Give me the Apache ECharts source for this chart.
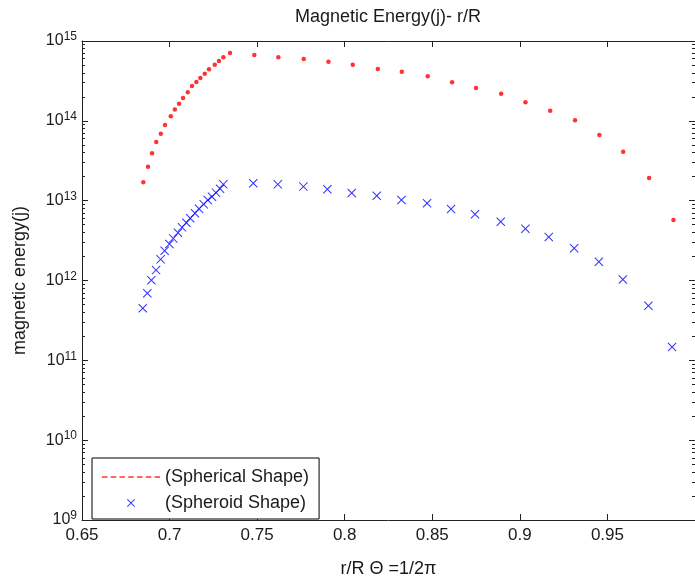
<!DOCTYPE html>
<html>
<head>
<meta charset="utf-8">
<script src="https://cdn.jsdelivr.net/npm/echarts@6/dist/echarts.min.js"></script>
<style>html,body{margin:0;padding:0;background:#fff;}#c{width:695px;height:583px;}</style>
</head>
<body>
<div id="c"></div>
<script>
const titleText = 'Magnetic Energy(j)- r/R';
const xName = 'r/R \u0398 =1/2\u03c0';
const yName = 'magnetic energy(j)';
const seriesNames = ['(Spherical Shape)', '(Spheroid Shape)'];
const xTickMin = 0.65, xTickMax = 1.0, xTickStep = 0.05;
const yExpMin = 9, yExpMax = 15;

const redX = [0.6850,0.6877,0.6900,0.6924,0.6950,0.6974,0.7007,0.7030,0.7054,0.7077,0.7104,0.7128,0.7153,0.7176,0.7201,0.7225,0.7258,0.7282,0.7307,0.7345,
  0.7484,0.7621,0.7766,0.7907,0.8046,0.8189,0.8326,0.8474,0.8613,0.8750,0.8893,0.9032,0.9173,0.9315,0.9454,0.9590,0.9738,0.9877];
const redY = [1.70e13,2.66e13,3.92e13,5.43e13,6.90e13,8.87e13,1.14e14,1.39e14,1.64e14,1.93e14,2.28e14,2.73e14,3.06e14,3.44e14,3.89e14,4.43e14,5.05e14,5.61e14,6.25e14,7.08e14,
  6.68e14,6.25e14,5.96e14,5.51e14,5.05e14,4.46e14,4.12e14,3.61e14,3.05e14,2.58e14,2.19e14,1.71e14,1.34e14,1.02e14,6.64e13,4.10e13,1.92e13,5.73e12];
const blueX = [0.6847,0.6873,0.6896,0.6923,0.6949,0.6972,0.6999,0.7021,0.7048,0.7071,0.7096,0.7118,0.7145,0.7168,0.7195,0.7218,0.7242,0.7265,0.7288,0.7307,
  0.7478,0.7618,0.7764,0.7901,0.8040,0.8183,0.8324,0.8470,0.8607,0.8744,0.8891,0.9032,0.9165,0.9310,0.9451,0.9588,0.9734,0.9869];
const blueY = [4.49e11,6.92e11,1.01e12,1.35e12,1.84e12,2.36e12,2.86e12,3.37e12,3.97e12,4.63e12,5.30e12,6.01e12,6.95e12,7.93e12,8.99e12,1.02e13,1.12e13,1.26e13,1.41e13,1.60e13,
  1.65e13,1.60e13,1.50e13,1.39e13,1.25e13,1.15e13,1.02e13,9.27e12,7.87e12,6.75e12,5.45e12,4.46e12,3.51e12,2.54e12,1.72e12,1.03e12,4.84e11,1.47e11];

const FONT = "'Liberation Sans', Arial, sans-serif";
const TXT = '#1a1a1a';
const AX = '#222';

const redData = redX.map((x, i) => [x, redY[i]]);
const blueData = blueX.map((x, i) => [x, blueY[i]]);

// minor log tick positions (in log10 space) for the helper axes
const minorTicks = [];
for (let d = yExpMin; d < yExpMax; d++) {
  for (let k = 2; k <= 9; k++) minorTicks.push(d + Math.log10(k));
}

const xSym = 'path://M0,0.8L0.8,0L5,4.2L9.2,0L10,0.8L5.8,5L10,9.2L9.2,10L5,5.8L0.8,10L0,9.2L4.2,5Z';
let dashPath = 'path://';
for (let i = 0; i < 7; i++) dashPath += 'M' + (i * 8) + ',0h5v1.2h-5z';

const chart = echarts.init(document.getElementById('c'), null, {renderer: 'canvas'});

function mainY(pos, labels) {
  return {
    type: 'log', logBase: 10, position: pos,
    min: Math.pow(10, yExpMin), max: Math.pow(10, yExpMax), splitNumber: yExpMax - yExpMin,
    axisLine: {show: true, lineStyle: {color: AX, width: 1}},
    axisTick: {show: true, inside: true, length: 6, lineStyle: {color: AX}},
    splitLine: {show: false},
    minorTick: {show: false},
    axisLabel: labels ? {
      show: true, margin: 5,
      formatter: v => '{b|10}{s|' + Math.round(Math.log10(v)) + '}',
      rich: {
        b: {fontSize: 16, fontFamily: FONT, color: TXT, lineHeight: 20},
        s: {fontSize: 12, fontFamily: FONT, color: TXT, lineHeight: 4, verticalAlign: 'top'}
      }
    } : {show: false},
    name: labels ? yName : '',
    nameLocation: 'middle', nameGap: 53,
    nameTextStyle: {fontSize: 18, fontFamily: FONT, color: TXT}
  };
}
function minorY(pos) {
  return {
    type: 'value', position: pos, min: yExpMin, max: yExpMax,
    axisLine: {show: false},
    axisTick: {show: true, inside: true, length: 3, customValues: minorTicks, lineStyle: {color: AX}},
    axisLabel: {show: false},
    splitLine: {show: false}
  };
}
function xAx(pos, labels) {
  return {
    type: 'value', position: pos, min: xTickMin, max: xTickMax, interval: xTickStep,
    axisLine: {show: true, onZero: false, lineStyle: {color: AX, width: 1}},
    axisTick: {show: true, inside: true, length: 6, lineStyle: {color: AX}},
    splitLine: {show: false},
    axisLabel: labels ? {show: true, margin: 7, fontSize: 17, fontFamily: FONT, color: TXT, showMaxLabel: false} : {show: false},
    name: labels ? xName : '',
    nameLocation: 'middle', nameGap: 40,
    nameTextStyle: {fontSize: 18, fontFamily: FONT, color: TXT}
  };
}

chart.setOption({
  animation: false,
  backgroundColor: '#fff',
  title: {
    text: titleText, left: 388, top: 8, textAlign: 'center', padding: 0,
    textStyle: {fontSize: 18, fontWeight: 'normal', fontFamily: FONT, color: TXT}
  },
  grid: {left: 82, right: 0, top: 41, bottom: 63, containLabel: false},
  xAxis: [xAx('bottom', true), xAx('top', false)],
  yAxis: [mainY('left', true), mainY('right', false), minorY('left'), minorY('right')],
  legend: {
    orient: 'vertical', left: 92, top: 458,
    padding: [10, 10, 7, 10], itemGap: 8,
    itemWidth: 58, itemHeight: 8,
    borderColor: '#000', borderWidth: 1, backgroundColor: '#fff',
    textStyle: {fontSize: 18, fontFamily: FONT, color: TXT},
    data: [
      {name: seriesNames[0], icon: dashPath},
      {name: seriesNames[1], icon: xSym}
    ]
  },
  series: [
    {
      name: seriesNames[0], type: 'scatter', xAxisIndex: 0, yAxisIndex: 0,
      symbol: 'circle', symbolSize: 4.5,
      itemStyle: {color: '#ff0000'},
      data: redData
    },
    {
      name: seriesNames[1], type: 'scatter', xAxisIndex: 0, yAxisIndex: 0,
      symbol: xSym, symbolSize: 9,
      itemStyle: {color: '#0000ff'},
      data: blueData
    }
  ]
});
</script>
</body>
</html>
